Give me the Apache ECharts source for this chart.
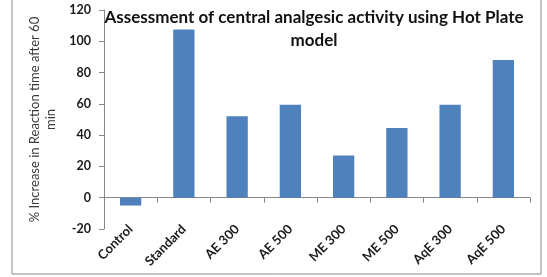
<!DOCTYPE html>
<html>
<head>
<meta charset="utf-8">
<script src="https://cdn.jsdelivr.net/npm/echarts@6/dist/echarts.min.js"></script>
<style>
  html, body { margin: 0; padding: 0; background: #fff; }
  #chart { width: 547px; height: 277px; }
</style>
</head>
<body>
<div id="chart"></div>
<script>
  // données
  const categories = ["Control", "Standard", "AE 300", "AE 500", "ME 300", "ME 500", "AqE 300", "AqE 500"];
  const increase = [-5, 107.5, 52, 59.5, 27, 44.5, 59.5, 88];
  const yTicks = { min: -20, max: 120, interval: 20 };

  const FONT = "Lato, 'Open Sans', sans-serif";
  const chart = echarts.init(document.getElementById("chart"), null, { renderer: "canvas" });

  chart.setOption({
    animation: false,
    graphic: [{
      type: "rect", silent: true, z: -1,
      shape: { x: 12, y: -5, width: 529, height: 279 },
      style: { fill: "none", stroke: "#8a8a8a", lineWidth: 1 },
    }],
    title: {
      text: "Assessment of central analgesic activity using Hot Plate\nmodel",
      left: 309, top: 1, textAlign: "center",
      textStyle: { fontFamily: FONT, fontSize: 17, fontWeight: "bold", color: "#111", lineHeight: 23 },
    },
    grid: { left: 104, right: 17, top: 10, bottom: 48 },
    xAxis: {
      type: "category", data: categories,
      axisLine: { onZero: true, lineStyle: { color: "#868686" } },
      axisTick: { show: true, length: 5, lineStyle: { color: "#868686" } },
      axisLabel: { rotate: 45, margin: -2, interval: 0, fontFamily: FONT, fontSize: 13,
                   fontWeight: "bold", color: "#1a1a1a" },
    },
    yAxis: {
      type: "value", min: yTicks.min, max: yTicks.max, interval: yTicks.interval,
      name: "% Increase in Reaction time after 60\nmin",
      nameLocation: "middle", nameGap: 43, nameRotate: 90,
      nameTextStyle: { fontFamily: FONT, fontSize: 13, color: "#3a3a3a", lineHeight: 16 },
      splitLine: { show: false },
      axisLine: { show: true, lineStyle: { color: "#868686" } },
      axisTick: { show: true, length: 5, lineStyle: { color: "#868686" } },
      axisLabel: { margin: 13, fontFamily: FONT, fontSize: 12.5, fontWeight: "bold", color: "#1a1a1a" },
    },
    series: [{
      type: "bar", data: increase, barWidth: "40%",
      itemStyle: { color: "#4F81BD" },
    }],
  });
</script>
</body>
</html>
